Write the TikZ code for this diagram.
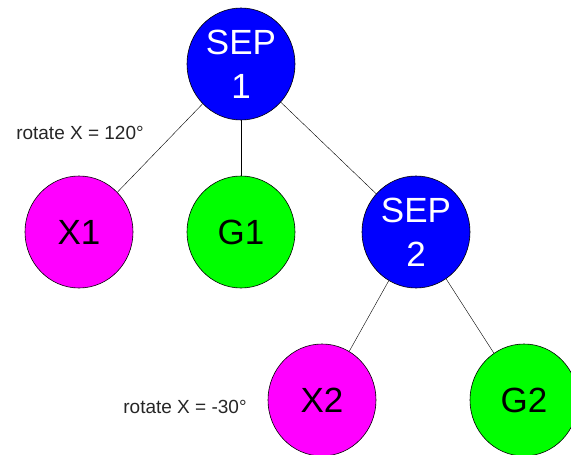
\documentclass[tikz,border=0pt]{standalone}
\usepackage{fontspec}
\setmainfont{Liberation Sans}
\usetikzlibrary{shapes.geometric}
\definecolor{rotpink}{RGB}{255,0,255}
\definecolor{sepblue}{RGB}{0,0,255}
\definecolor{goalgreen}{RGB}{0,255,0}

\begin{document}
\begin{tikzpicture}[
    x=1pt,y=-1pt,
    every node/.style={font=\fontsize{35}{44}\selectfont},
    blob/.style={draw,ellipse,line width=0.6pt,inner sep=0pt,minimum width=108pt,minimum height=112pt,align=center},
    sep/.style={blob,fill=sepblue,text=white},
    rot/.style={blob,fill=rotpink},
    goal/.style={blob,fill=goalgreen},
    note/.style={font=\fontsize{19}{22}\selectfont,text=black!85}
]
\useasboundingbox (0,0) rectangle (571,455);

% Top separator
\node[sep] (sep1) at (241,64) {SEP\\1};

% First level
\node[rot]  (x1)   at (79,232)  {X1};
\node[goal] (g1)   at (241,232) {G1};
\node[sep]  (sep2) at (416,232) {SEP\\2};

% Second level
\node[rot]  (x2) at (322,400) {X2};
\node[goal] (g2) at (524,400) {G2};

% Links
\draw (sep1) -- (x1);
\draw[line width=1pt] (sep1) -- (g1);
\draw (sep1) -- (sep2);
\draw (sep2) -- (x2);
\draw (sep2) -- (g2);

% Rotation notes
\node[note] (r1) at (80,133)  {rotate X = 120°};
\node[note] (r2) at (185,407) {rotate X = -30°};

\end{tikzpicture}
\end{document}
